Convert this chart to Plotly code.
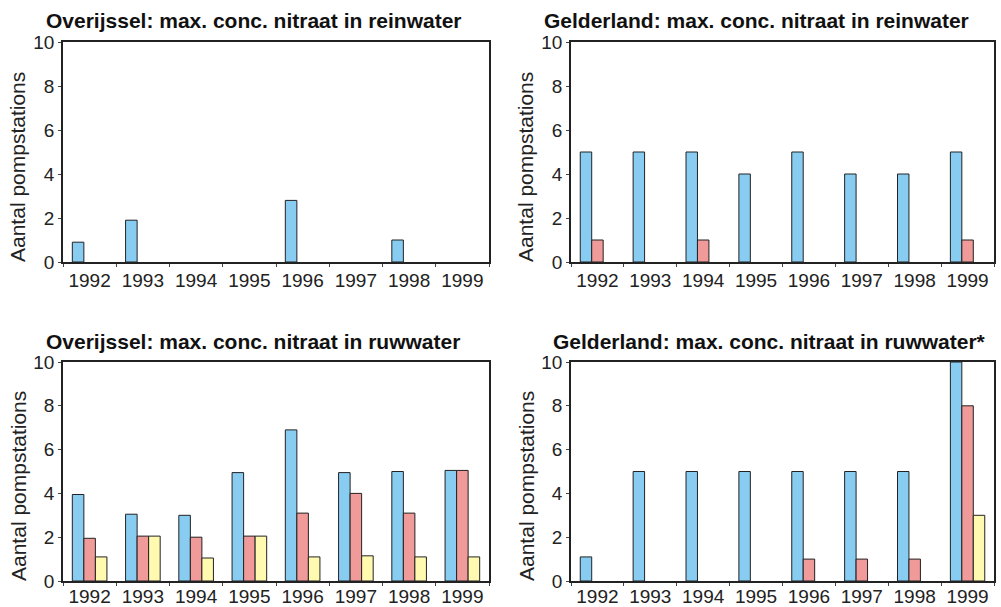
import plotly.graph_objects as go

years = ["1992", "1993", "1994", "1995", "1996", "1997", "1998", "1999"]

# Overijssel reinwater
ov_rein_blue = [0.9, 1.9, 0, 0, 2.8, 0, 1.0, 0]
ov_rein_pink = [0, 0, 0, 0, 0, 0, 0, 0]
ov_rein_yellow = [0, 0, 0, 0, 0, 0, 0, 0]

# Gelderland reinwater
ge_rein_blue = [5, 5, 5, 4, 5, 4, 4, 5]
ge_rein_pink = [1, 0, 1, 0, 0, 0, 0, 1]
ge_rein_yellow = [0, 0, 0, 0, 0, 0, 0, 0]

# Overijssel ruwwater
ov_ruw_blue = [3.95, 3.05, 3.0, 4.95, 6.9, 4.95, 5.0, 5.05]
ov_ruw_pink = [1.95, 2.05, 2.0, 2.05, 3.1, 4.0, 3.1, 5.05]
ov_ruw_yellow = [1.1, 2.05, 1.05, 2.05, 1.1, 1.15, 1.1, 1.1]

# Gelderland ruwwater
ge_ruw_blue = [1.1, 5, 5, 5, 5, 5, 5, 10]
ge_ruw_pink = [0, 0, 0, 0, 1, 1, 1, 8]
ge_ruw_yellow = [0, 0, 0, 0, 0, 0, 0, 3]

titles = [
    "Overijssel: max. conc. nitraat in reinwater",
    "Gelderland: max. conc. nitraat in reinwater",
    "Overijssel: max. conc. nitraat in ruwwater",
    "Gelderland: max. conc. nitraat in ruwwater*",
]
y_title = "Aantal pompstations"

BLUE = "#88CCF2"
PINK = "#F09A9A"
YELLOW = "#FFFAAF"
FONT = "Liberation Sans, Arial, sans-serif"

W, H = 1001, 607

panels = [
    (ov_rein_blue, ov_rein_pink, ov_rein_yellow, (63, 489), (42, 262)),
    (ge_rein_blue, ge_rein_pink, ge_rein_yellow, (571, 994), (42, 262)),
    (ov_ruw_blue, ov_ruw_pink, ov_ruw_yellow, (63, 489), (362, 581)),
    (ge_ruw_blue, ge_ruw_pink, ge_ruw_yellow, (571, 994), (362, 581)),
]

def nz(vals):
    return [v if v != 0 else None for v in vals]

fig = go.Figure()
layout = {}
annotations = []
title_pos = [(44, 21), (542, 21), (44, 341), (551, 341)]
ytitle_pos = [(18, 167), (526, 167), (18, 486), (526, 486)]

for i, (b, p, y, (x0, x1), (y0, y1)) in enumerate(panels):
    n = i + 1
    xa = "x" if n == 1 else f"x{n}"
    ya = "y" if n == 1 else f"y{n}"
    for vals, col in ((b, BLUE), (p, PINK), (y, YELLOW)):
        fig.add_trace(go.Bar(
            x=years, y=nz(vals), xaxis=xa, yaxis=ya,
            marker=dict(color=col, line=dict(color="#222222", width=1)),
            showlegend=False, hoverinfo="x+y",
        ))
    xkey = "xaxis" if n == 1 else f"xaxis{n}"
    ykey = "yaxis" if n == 1 else f"yaxis{n}"
    layout[xkey] = dict(
        domain=[x0 / W, x1 / W], anchor=ya, type="category",
        showline=True, linecolor="#222222", linewidth=1.5, mirror=True,
        ticks="outside", tickson="boundaries", ticklen=3, tickcolor="#444444",
        tickfont=dict(family=FONT, size=19, color="#222222"),
        ticklabelstandoff=(-3 if n > 2 else 0),
        showgrid=False, zeroline=False, automargin=False,
    )
    layout[ykey] = dict(
        domain=[1 - y1 / H, 1 - y0 / H], anchor=xa, range=[0, 10],
        tickvals=[0, 2, 4, 6, 8, 10], ticks="outside", ticklen=3,
        tickcolor="#444444",
        showline=True, linecolor="#222222", linewidth=1.5, mirror=True,
        tickfont=dict(family=FONT, size=19, color="#222222"),
        showgrid=False, zeroline=False, automargin=False,
    )
    tx, ty = title_pos[i]
    annotations.append(dict(
        text=f"<b>{titles[i]}</b>", xref="paper", yref="paper",
        x=tx / W, y=1 - ty / H, xanchor="left", yanchor="middle",
        showarrow=False, font=dict(family=FONT, size=21, color="#111111"),
    ))
    ax_, ay_ = ytitle_pos[i]
    annotations.append(dict(
        text=y_title, xref="paper", yref="paper",
        x=ax_ / W, y=1 - ay_ / H, xanchor="center", yanchor="middle",
        textangle=-90, showarrow=False,
        font=dict(family=FONT, size=21, color="#222222"),
    ))

fig.update_layout(
    **layout,
    annotations=annotations,
    barmode="group", bargap=0.35, bargroupgap=0,
    width=W, height=H, margin=dict(l=0, r=0, t=0, b=0, pad=0),
    paper_bgcolor="white", plot_bgcolor="white",
    font=dict(family=FONT),
    showlegend=False,
)

fig.write_html(
    "out.html",
    config={"displayModeBar": False},
    post_script="document.body.style.margin='0';document.body.style.overflow='hidden';",
)
